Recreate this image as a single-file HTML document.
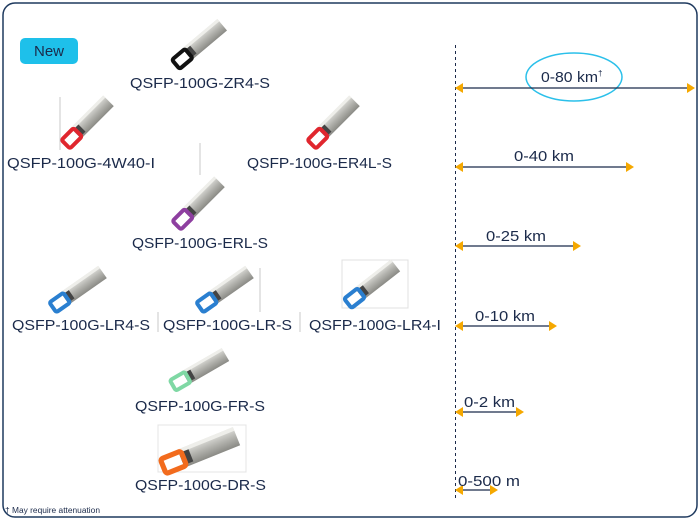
<!DOCTYPE html>
<html><head><meta charset="utf-8"><style>
html,body{margin:0;padding:0;background:#fff;}
svg{display:block;font-family:"Liberation Sans",sans-serif;}
</style></head><body>
<svg width="700" height="521" viewBox="0 0 700 521" xmlns="http://www.w3.org/2000/svg">
<defs>
<linearGradient id="g" x1="0" y1="0" x2="0" y2="1">
<stop offset="0" stop-color="#e2e2de"/><stop offset="0.5" stop-color="#b4b4af"/><stop offset="1" stop-color="#8a8a85"/>
</linearGradient>
<g id="body">
<rect x="16" y="-8" width="46" height="15" fill="url(#g)"/>
<rect x="16" y="-8" width="46" height="3" fill="#eeeeea"/>
<rect x="16" y="-5" width="8" height="10" fill="#444"/>
</g>
</defs>
<rect x="3" y="3" width="694" height="514" rx="12" fill="#fff" stroke="#1f3a5f" stroke-width="1.5"/>

<rect x="20" y="38" width="58" height="26" rx="5" fill="#1ec0ea"/>
<text x="49" y="56" font-size="15" fill="#1b2a4a" text-anchor="middle">New</text>

<g stroke="#c8c8c8" stroke-width="1">
<line x1="60" y1="97" x2="60" y2="150"/>
<line x1="200" y1="143" x2="200" y2="175"/>
<line x1="158" y1="312" x2="158" y2="332"/>
<line x1="300" y1="312" x2="300" y2="332"/>
<line x1="260" y1="268" x2="260" y2="312"/>
</g>
<rect x="342" y="260" width="66" height="48" fill="none" stroke="#e0e0e0"/>
<rect x="158" y="425" width="88" height="47" fill="none" stroke="#e4e4e4"/>

<g transform="translate(175,65) rotate(-40)"><use href="#body"/><rect x="1" y="-6" width="17" height="12" rx="2" fill="none" stroke="#111" stroke-width="4"/></g>
<g transform="translate(65,145) rotate(-45)"><use href="#body"/><rect x="1" y="-6" width="17" height="12" rx="2" fill="none" stroke="#e0262e" stroke-width="4"/></g>
<g transform="translate(311,145) rotate(-45)"><use href="#body"/><rect x="1" y="-6" width="17" height="12" rx="2" fill="none" stroke="#e0262e" stroke-width="4"/></g>
<g transform="translate(176,226) rotate(-45)"><use href="#body"/><rect x="1" y="-6" width="17" height="12" rx="2" fill="none" stroke="#8e3fa0" stroke-width="4"/></g>
<g transform="translate(52,308) rotate(-35)"><use href="#body"/><rect x="1" y="-6" width="17" height="12" rx="2" fill="none" stroke="#2a7fd0" stroke-width="4"/></g>
<g transform="translate(199,308) rotate(-35)"><use href="#body"/><rect x="1" y="-6" width="17" height="12" rx="2" fill="none" stroke="#2a7fd0" stroke-width="4"/></g>
<g transform="translate(347,304) rotate(-38)"><use href="#body"/><rect x="1" y="-6" width="17" height="12" rx="2" fill="none" stroke="#2a7fd0" stroke-width="4"/></g>
<g transform="translate(172,386) rotate(-30)"><use href="#body"/><rect x="1" y="-6" width="17" height="12" rx="2" fill="none" stroke="#7fd8a4" stroke-width="4"/></g>
<g transform="translate(162,467) rotate(-22) scale(1.3)"><use href="#body"/><rect x="1" y="-6" width="17" height="12" rx="2" fill="none" stroke="#f26b1d" stroke-width="4"/></g>

<g font-size="15" fill="#1b2a4a" lengthAdjust="spacingAndGlyphs">
<text x="130" y="88" textLength="140" lengthAdjust="spacingAndGlyphs">QSFP-100G-ZR4-S</text>
<text x="7" y="168" textLength="148" lengthAdjust="spacingAndGlyphs">QSFP-100G-4W40-I</text>
<text x="247" y="168" textLength="145" lengthAdjust="spacingAndGlyphs">QSFP-100G-ER4L-S</text>
<text x="132" y="248" textLength="136" lengthAdjust="spacingAndGlyphs">QSFP-100G-ERL-S</text>
<text x="12" y="330" textLength="138" lengthAdjust="spacingAndGlyphs">QSFP-100G-LR4-S</text>
<text x="163" y="330" textLength="129" lengthAdjust="spacingAndGlyphs">QSFP-100G-LR-S</text>
<text x="309" y="330" textLength="132" lengthAdjust="spacingAndGlyphs">QSFP-100G-LR4-I</text>
<text x="135" y="411" textLength="130" lengthAdjust="spacingAndGlyphs">QSFP-100G-FR-S</text>
<text x="135" y="490" textLength="131" lengthAdjust="spacingAndGlyphs">QSFP-100G-DR-S</text>
</g>
<text x="5" y="513" font-size="8" fill="#1b2a4a" textLength="95" lengthAdjust="spacingAndGlyphs">† May require attenuation</text>

<line x1="455.5" y1="45" x2="455.5" y2="500" stroke="#1b2a4a" stroke-width="1" stroke-dasharray="3,3"/>
<ellipse cx="574" cy="77" rx="48" ry="24" fill="none" stroke="#2bc0ea" stroke-width="1.5"/>
<g stroke="#1b2a4a" stroke-width="1.3">
<line x1="458" y1="88" x2="690" y2="88"/>
<line x1="458" y1="167" x2="630" y2="167"/>
<line x1="458" y1="246" x2="577" y2="246"/>
<line x1="458" y1="326" x2="553" y2="326"/>
<line x1="458" y1="412" x2="520" y2="412"/>
<line x1="458" y1="490" x2="494" y2="490"/>
</g>
<g fill="#f5a800">
<polygon points="455,88 463,83 463,93"/><polygon points="695,88 687,83 687,93"/>
<polygon points="455,167 463,162 463,172"/><polygon points="634,167 626,162 626,172"/>
<polygon points="455,246 463,241 463,251"/><polygon points="581,246 573,241 573,251"/>
<polygon points="455,326 463,321 463,331"/><polygon points="557,326 549,321 549,331"/>
<polygon points="455,412 463,407 463,417"/><polygon points="524,412 516,407 516,417"/>
<polygon points="455,490 463,485 463,495"/><polygon points="498,490 490,485 490,495"/>
</g>
<g font-size="15" fill="#1b2a4a">
<text x="541" y="82"><tspan textLength="57" lengthAdjust="spacingAndGlyphs">0-80 km</tspan><tspan font-size="8" dy="-6">†</tspan></text>
<text x="514" y="161" textLength="60" lengthAdjust="spacingAndGlyphs">0-40 km</text>
<text x="486" y="241" textLength="60" lengthAdjust="spacingAndGlyphs">0-25 km</text>
<text x="475" y="321" textLength="60" lengthAdjust="spacingAndGlyphs">0-10 km</text>
<text x="464" y="407" textLength="51" lengthAdjust="spacingAndGlyphs">0-2 km</text>
<text x="458" y="486" textLength="62" lengthAdjust="spacingAndGlyphs">0-500 m</text>
</g>
</svg>
</body></html>
